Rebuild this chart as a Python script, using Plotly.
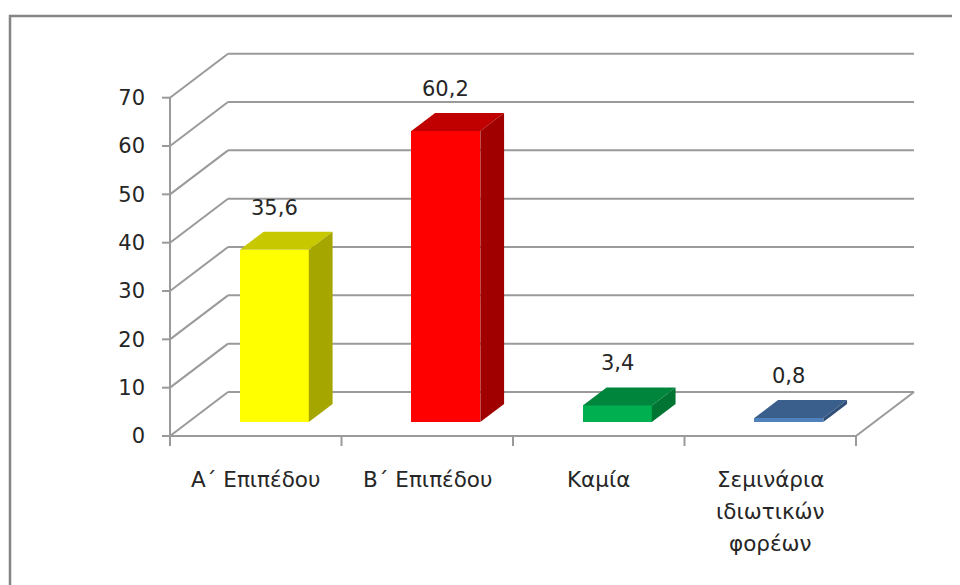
import plotly.graph_objects as go

# ---------------- data ----------------
categories = ["Α΄ Επιπέδου", "Β΄ Επιπέδου", "Καμία", "Σεμινάρια\nιδιωτικών\nφορέων"]
values = [35.6, 60.2, 3.4, 0.8]
value_labels = ["35,6", "60,2", "3,4", "0,8"]
y_ticks = [0, 10, 20, 30, 40, 50, 60, 70]
y_tick_labels = ["0", "10", "20", "30", "40", "50", "60", "70"]
y_title = "%"

front_colors = ["#FFFF00", "#FF0000", "#00B050", "#4F81BD"]
top_colors = ["#C8C800", "#C00000", "#00863C", "#3B5F8D"]
side_colors = ["#A6A600", "#A00000", "#007533", "#2F4E78"]

# ---------------- geometry (pixel calibration, screen px; page body has 8px margin) ----------------
OFF = 8
W, H = 960 - OFF, 585 - OFF
X0_PX, CAT_PX = 170.0 - OFF, 171.5    # left category boundary, px per category
Y0_PX, UNIT_PX = 436.0 - OFF, 4.833   # value 0, px per value unit
PL, PR, PT, PB = 142, 922, 32, 452    # plot area in figure px

def ux(px):
    return (px - X0_PX) / CAT_PX - 0.5

def vy(px):
    return (Y0_PX - px) / UNIT_PX

DX = 58 / CAT_PX       # depth offset of back wall (x units)
DY = 44 / UNIT_PX      # depth offset of back wall (y units)
F0, F1 = 0.32, 0.73    # bar depth (front/back fraction)
BW = 69 / CAT_PX       # bar width
n = len(categories)
xl, xr = -0.5, n - 0.5
ymax = max(y_ticks)

GRID = "#9A9A9A"
TXT = "#262626"
FONT = "DejaVu Sans"

fig = go.Figure()

# front faces (bars)
xs = [i + F0 * DX for i in range(n)]
fig.add_trace(go.Bar(
    x=xs, y=values, base=[F0 * DY] * n, width=BW,
    marker=dict(color=front_colors, line=dict(width=0)),
    hoverinfo="skip", showlegend=False,
))

# top and side faces
for i, v in enumerate(values):
    fl = xs[i] - BW / 2
    fr = xs[i] + BW / 2
    b = F0 * DY
    t = F0 * DY + v
    ddx = (F1 - F0) * DX
    ddy = (F1 - F0) * DY
    fig.add_trace(go.Scatter(
        x=[fl, fr, fr + ddx, fl + ddx, fl], y=[t, t, t + ddy, t + ddy, t],
        mode="lines", fill="toself", fillcolor=top_colors[i],
        line=dict(width=0, color=top_colors[i]), hoverinfo="skip", showlegend=False))
    fig.add_trace(go.Scatter(
        x=[fr, fr + ddx, fr + ddx, fr, fr], y=[t, t + ddy, b + ddy, b, t],
        mode="lines", fill="toself", fillcolor=side_colors[i],
        line=dict(width=0, color=side_colors[i]), hoverinfo="skip", showlegend=False))

# gridlines, floor, axis lines and ticks as shapes below traces
shapes = []
def seg(x0, y0, x1, y1, color=GRID, w=2):
    shapes.append(dict(type="line", xref="x", yref="y", x0=x0, y0=y0, x1=x1, y1=y1,
                       line=dict(color=color, width=w), layer="below"))

for v in y_ticks:
    seg(xl, v, xl + DX, v + DY)
    seg(xl + DX, v + DY, xr + DX, v + DY)
    seg(xl - 8 / CAT_PX, v, xl, v)          # y tick mark
seg(xl, 0, xr, 0)                          # floor front
seg(xr, 0, xr + DX, DY)                    # floor right
seg(xl, 0, xl, ymax)                       # y axis line
for k in range(n + 1):
    seg(xl + k, 0, xl + k, -10 / UNIT_PX)  # x tick marks

# chart border
shapes.append(dict(type="rect", xref="paper", yref="paper",
                   x0=(10 - OFF - PL) / (PR - PL), x1=1.3,
                   y0=-0.6, y1=(PB - (16 - OFF)) / (PB - PT),
                   line=dict(color="#858585", width=2.5), layer="below"))

annotations = []
# data labels
for i, v in enumerate(values):
    annotations.append(dict(x=xs[i], y=v + F1 * DY, xref="x", yref="y", text=value_labels[i],
                            showarrow=False, yanchor="middle", yshift=24,
                            font=dict(family=FONT, size=21, color=TXT)))
# category labels (multi-line)
for i, c in enumerate(categories):
    for k, line in enumerate(c.split("\n")):
        annotations.append(dict(x=i, y=0, xref="x", yref="y", text=line, showarrow=False,
                                yanchor="middle", yshift=-(43 + 32.3 * k),
                                font=dict(family=FONT, size=21.5, color=TXT)))
# y title
annotations.append(dict(x=ux(82 - OFF), y=vy(268 - OFF), xref="x", yref="y", text=y_title,
                        showarrow=False, font=dict(family=FONT, size=20, color=TXT)))

fig.update_layout(
    width=W, height=H, autosize=False,
    margin=dict(l=PL, r=W - PR, t=PT, b=H - PB, pad=0),
    paper_bgcolor="white", plot_bgcolor="white",
    showlegend=False, bargap=0,
    shapes=shapes, annotations=annotations,
    xaxis=dict(range=[ux(PL), ux(PR)], showgrid=False, zeroline=False, showline=False,
               showticklabels=False, ticks="", fixedrange=True),
    yaxis=dict(range=[vy(PB), vy(PT)], showgrid=False, zeroline=False, showline=False,
               tickvals=y_ticks, ticktext=y_tick_labels, ticks="", ticklabelstandoff=4,
               tickfont=dict(family=FONT, size=21, color=TXT), fixedrange=True),
)

fig.write_html("out.html")
